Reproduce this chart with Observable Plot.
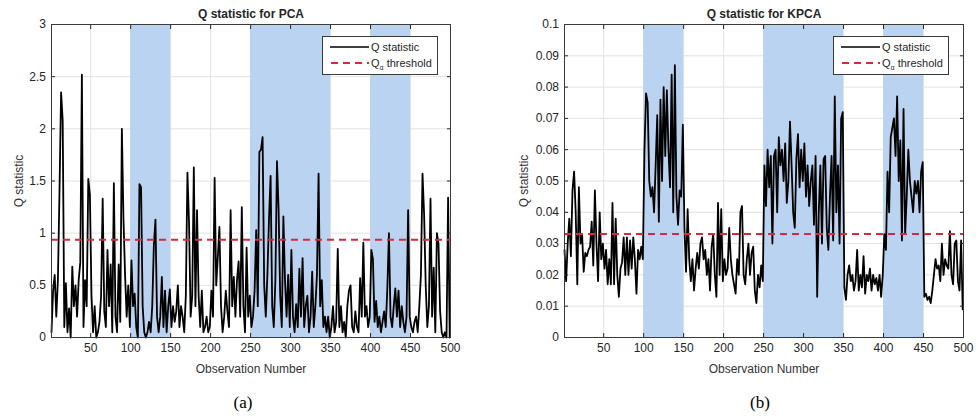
<!DOCTYPE html>
<html><head><meta charset="utf-8">
<script src="https://cdn.jsdelivr.net/npm/d3@7"></script>
<script src="https://cdn.jsdelivr.net/npm/@observablehq/plot@0.6"></script>
<style>
body{margin:0;background:#fff;}
#wrap{display:flex;width:976px;height:418px;font-family:"Liberation Sans",Arial,sans-serif;}
.panel{position:relative;width:488px;height:418px;}
.panel svg{display:block;}
.legend{position:absolute;top:36px;width:116px;height:39px;box-sizing:border-box;background:#fff;border:1px solid #3a3a3a;font-size:11px;color:#262626;}
.legend .row{position:absolute;left:0;height:14px;width:100%;}
.legend svg{position:absolute;left:7px;top:0;}
.legend span{position:absolute;left:48px;top:0;line-height:14px;white-space:nowrap;}
.legend sub{font-size:7px;vertical-align:-3px;}
</style>
</head><body>
<div id="wrap"><div class="panel" id="pa"></div><div class="panel" id="pb"></div></div>
<script>
// Observation numbers (every second observation)
const obs = d3.range(1, 500, 2);

// Q statistic for PCA
const qPCA = [
0.05,0.45,0.6,0.2,0.55,1.4,2.35,2.08,0.1,0.52,
0.05,0.28,0.0,0.68,0.3,0.5,0.2,0.55,0.72,2.52,
0.1,0.55,0.3,1.52,1.37,0.4,0.05,0.3,0.0,0.05,
0.15,0.4,1.33,0.25,0.1,0.84,0.3,0.7,0.05,1.48,
0.2,0.05,0.7,0.15,2.0,1.14,0.6,0.2,0.5,0.1,
0.74,0.3,0.42,0.1,0.0,1.47,1.44,0.3,0.05,0.0,
0.05,0.15,0.05,0.3,0.88,1.13,0.2,0.05,0.2,0.58,
0.1,0.45,0.05,0.3,0.46,0.1,0.3,0.15,0.25,0.5,
0.1,0.3,0.2,0.05,0.4,1.58,1.1,0.2,0.4,1.63,
0.3,1.22,0.4,0.1,0.45,0.05,0.1,0.2,0.05,0.1,
0.45,0.2,1.53,0.5,0.77,1.06,0.3,0.05,0.2,0.45,
0.25,0.1,1.22,0.3,0.58,0.2,0.55,0.73,0.2,1.25,
0.3,0.05,0.86,0.2,0.4,0.1,0.2,0.45,1.03,0.3,
1.78,1.8,1.92,0.5,0.2,0.6,1.13,1.55,0.3,0.1,
0.55,1.69,1.23,0.4,0.1,1.16,0.55,0.2,0.6,0.1,
0.84,0.2,0.05,0.32,0.1,0.66,0.2,0.76,0.1,0.3,
0.4,0.05,0.2,0.63,0.1,0.3,0.6,1.57,0.3,0.55,
0.1,0.2,0.05,0.2,0.0,0.1,0.3,0.05,0.15,0.85,
0.1,0.3,0.05,0.15,0.0,0.3,0.45,0.5,0.1,0.05,
0.25,0.1,0.05,0.57,0.2,0.91,0.2,0.3,0.1,0.2,
0.84,0.75,0.15,0.35,0.1,0.2,0.05,0.15,0.25,0.1,
0.47,1.0,0.2,0.1,0.3,0.47,0.2,0.45,0.1,0.3,
0.15,0.05,0.2,1.22,0.2,0.1,0.05,0.15,0.2,0.05,
0.3,0.6,1.57,1.18,0.5,0.1,0.3,1.33,0.2,0.67,
0.05,1.0,0.9,0.25,0.05,0.0,0.05,0.0,1.34,0.0
];

// Q statistic for KPCA
const qKPCA = [
0.028,0.018,0.03,0.038,0.026,0.047,0.053,0.04,0.017,0.048,
0.03,0.033,0.021,0.027,0.026,0.028,0.029,0.037,0.023,0.047,
0.03,0.018,0.04,0.025,0.03,0.022,0.028,0.017,0.025,0.017,
0.043,0.017,0.038,0.02,0.013,0.022,0.024,0.032,0.02,0.032,
0.02,0.031,0.022,0.032,0.025,0.014,0.028,0.025,0.029,0.025,
0.06,0.078,0.075,0.05,0.045,0.048,0.04,0.055,0.071,0.037,
0.076,0.05,0.08,0.058,0.079,0.06,0.048,0.084,0.04,0.087,
0.045,0.036,0.047,0.045,0.068,0.035,0.021,0.041,0.025,0.018,
0.025,0.015,0.022,0.027,0.022,0.03,0.032,0.025,0.028,0.02,
0.025,0.015,0.029,0.033,0.02,0.013,0.043,0.02,0.041,0.018,
0.025,0.02,0.022,0.035,0.025,0.02,0.017,0.014,0.025,0.02,
0.04,0.042,0.02,0.017,0.025,0.03,0.02,0.027,0.029,0.015,
0.011,0.02,0.016,0.023,0.018,0.055,0.042,0.06,0.048,0.058,
0.03,0.058,0.06,0.04,0.064,0.055,0.06,0.05,0.062,0.043,
0.05,0.069,0.055,0.04,0.035,0.057,0.065,0.048,0.06,0.05,
0.062,0.045,0.055,0.042,0.05,0.055,0.036,0.058,0.013,0.04,
0.055,0.03,0.057,0.058,0.035,0.028,0.045,0.058,0.031,0.077,
0.04,0.055,0.03,0.07,0.072,0.016,0.012,0.02,0.023,0.018,
0.02,0.015,0.018,0.028,0.015,0.02,0.016,0.026,0.014,0.02,
0.018,0.022,0.015,0.02,0.017,0.019,0.015,0.02,0.013,0.02,
0.033,0.028,0.053,0.04,0.064,0.067,0.07,0.058,0.077,0.05,
0.063,0.031,0.073,0.033,0.045,0.06,0.05,0.045,0.04,0.05,
0.046,0.05,0.04,0.053,0.056,0.013,0.014,0.012,0.013,0.011,
0.015,0.02,0.025,0.022,0.023,0.018,0.03,0.02,0.025,0.023,
0.022,0.034,0.02,0.017,0.03,0.031,0.018,0.015,0.031,0.009
];

const thresholdPCA = 0.937;
const thresholdKPCA = 0.0331;

// Fault (shaded) intervals
const faultStart = [100, 250, 400];
const faultEnd = [150, 350, 450];

const xTicks = [50, 100, 150, 200, 250, 300, 350, 400, 450, 500];
const yTicksPCA = [0, 0.5, 1, 1.5, 2, 2.5, 3];
const yTicksKPCA = [0, 0.01, 0.02, 0.03, 0.04, 0.05, 0.06, 0.07, 0.08, 0.09, 0.1];

const titles = ["Q statistic for PCA", "Q statistic for KPCA"];
const captions = ["(a)", "(b)"];

const faults = faultStart.map((s, i) => ({s, e: faultEnd[i]}));
const INK = "#262626";
const FONT = "Liberation Sans, Arial, sans-serif";

function panel({values, threshold, yTicks, yMax, title, caption, marginLeft, marginRight, ylabelDx, capDx}) {
  const data = obs.map((o, i) => ({o, q: values[i]}));
  return Plot.plot({
    width: 488, height: 418,
    marginTop: 24, marginBottom: 81, marginLeft, marginRight,
    style: {fontFamily: FONT, fontSize: "12px", color: INK, background: "#fff"},
    x: {domain: [1, 500]},
    y: {domain: [0, yMax]},
    marks: [
      Plot.gridX({ticks: xTicks, stroke: "#e2e2e2", strokeOpacity: 1}),
      Plot.gridY({ticks: yTicks, stroke: "#e2e2e2", strokeOpacity: 1}),
      Plot.rect(faults, {x1: "s", x2: "e", fill: "#b9d3f0"}),
      Plot.line(data, {x: "o", y: "q", stroke: "#000", strokeWidth: 1.8}),
      Plot.ruleY([threshold], {stroke: "#d82a3a", strokeWidth: 2, strokeDasharray: "7,5"}),
      Plot.axisX({ticks: xTicks, tickSize: -4, tickPadding: 10, tickFormat: String, label: null, fontSize: 12, color: INK}),
      Plot.axisX({anchor: "top", ticks: xTicks, tickSize: -4, tickFormat: () => "", label: null, color: INK}),
      Plot.axisY({ticks: yTicks, tickSize: -4, tickPadding: 9.5, tickFormat: String, label: null, fontSize: 12, color: INK}),
      Plot.axisY({anchor: "right", ticks: yTicks, tickSize: -4, tickFormat: () => "", label: null, color: INK}),
      Plot.frame({stroke: "#3a3a3a", strokeWidth: 1}),
      Plot.text([title], {frameAnchor: "top", lineAnchor: "middle", dy: -10, fontWeight: "bold", fontSize: 12, fill: INK}),
      Plot.text(["Observation Number"], {frameAnchor: "bottom", lineAnchor: "middle", dy: 32, fontSize: 12, fill: "#333"}),
      Plot.text(["Q statistic"], {frameAnchor: "left", rotate: -90, textAnchor: "middle", lineAnchor: "middle", dx: ylabelDx, fontSize: 12, fill: "#333"}),
      Plot.text([caption], {frameAnchor: "bottom", lineAnchor: "middle", dy: 65, dx: capDx, fontSize: 17, fontFamily: "Liberation Serif, DejaVu Serif, serif", fill: "#000"})
    ]
  });
}

function legend(left) {
  const div = document.createElement("div");
  div.className = "legend";
  div.style.left = left + "px";
  div.innerHTML =
    '<div class="row" style="top:3px"><svg width="40" height="14"><line x1="0" y1="7" x2="39" y2="7" stroke="#000" stroke-width="1.6"/></svg><span>Q statistic</span></div>' +
    '<div class="row" style="top:19px"><svg width="40" height="14"><line x1="1" y1="7" x2="39" y2="7" stroke="#d82a3a" stroke-width="2" stroke-dasharray="7,5"/></svg><span>Q<sub>α</sub> threshold</span></div>';
  return div;
}

const pa = document.getElementById("pa");
pa.appendChild(panel({values: qPCA, threshold: thresholdPCA, yTicks: yTicksPCA, yMax: 3, title: titles[0], caption: captions[0], marginLeft: 51, marginRight: 38, ylabelDx: -32, capDx: -8}));
pa.appendChild(legend(322));
const pb = document.getElementById("pb");
pb.appendChild(panel({values: qKPCA, threshold: thresholdKPCA, yTicks: yTicksKPCA, yMax: 0.1, title: titles[1], caption: captions[1], marginLeft: 76, marginRight: 13, ylabelDx: -40, capDx: -4}));
pb.appendChild(legend(345));
</script>
</body></html>
